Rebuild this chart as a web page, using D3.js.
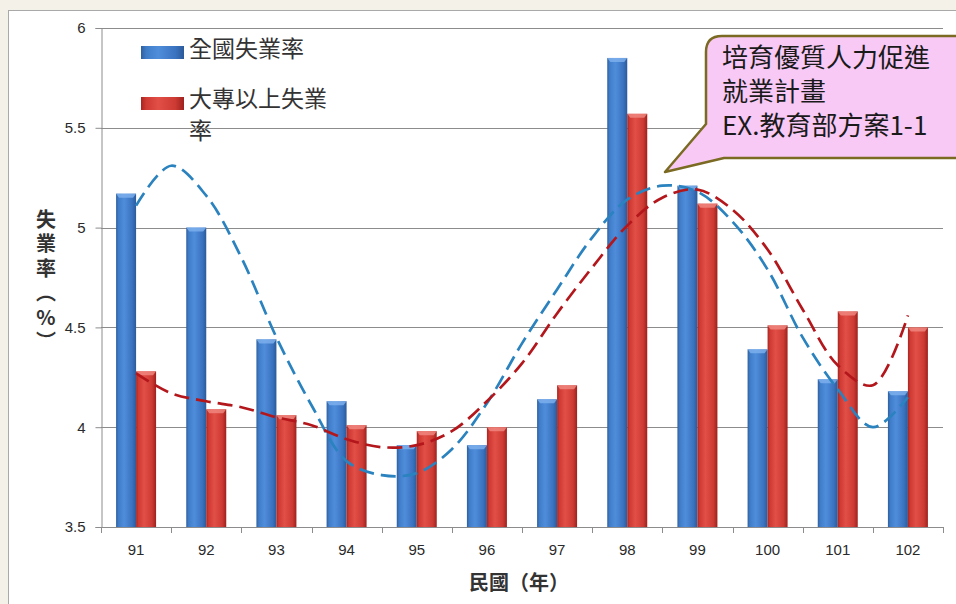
<!DOCTYPE html>
<html>
<head>
<meta charset="utf-8">
<script src="https://cdn.jsdelivr.net/npm/d3@7"></script>
<style>
  html, body { margin: 0; padding: 0; background: #f4f2e8; }
  svg { display: block; }
</style>
</head>
<body>
<svg id="canvas"></svg>
<script>
/* Data */
const years = ["91", "92", "93", "94", "95", "96", "97", "98", "99", "100", "101", "102"];
const national = [5.17, 5.00, 4.44, 4.13, 3.91, 3.91, 4.14, 5.85, 5.21, 4.39, 4.24, 4.18];
const college = [4.28, 4.09, 4.06, 4.01, 3.98, 4.00, 4.21, 5.57, 5.12, 4.51, 4.58, 4.50];
const seriesNames = ["全國失業率", "大專以上失業率"];
const yTicks = [3.5, 4, 4.5, 5, 5.5, 6];

/* Dashed trend curves, sampled every half year */
const trendYears = [91, 91.5, 92, 92.5, 93, 93.5, 94, 94.5, 95, 95.5, 96, 96.5,
                    97, 97.5, 98, 98.5, 99, 99.5, 100, 100.5, 101, 101.5, 102];
const trendNational = [5.11, 5.31, 5.16, 4.85, 4.45, 4.11, 3.83, 3.76, 3.77, 3.89, 4.12, 4.42,
                       4.69, 4.95, 5.14, 5.21, 5.18, 5.03, 4.79, 4.45, 4.19, 4.00, 4.15];
const trendCollege = [4.27, 4.17, 4.13, 4.10, 4.05, 4.01, 3.94, 3.90, 3.91, 3.98, 4.13, 4.32,
                      4.57, 4.80, 5.01, 5.15, 5.19, 5.09, 4.89, 4.59, 4.31, 4.21, 4.56];

const calloutLines = ["培育優質人力促進", "就業計畫", "EX.教育部方案1-1"];

const width = 956, height = 604;
const plot = { left: 101, right: 943, top: 28, bottom: 527 };

const svg = d3.select("#canvas")
    .attr("width", width)
    .attr("height", height);

/* Gradients for the bars */
const defs = svg.append("defs");
function barGradient(id, stops) {
    const g = defs.append("linearGradient").attr("id", id)
        .attr("x1", "0%").attr("x2", "100%").attr("y1", "0%").attr("y2", "0%");
    stops.forEach(s => g.append("stop").attr("offset", s[0]).attr("stop-color", s[1]));
}
barGradient("gBlue", [["0%", "#2f5f9e"], ["12%", "#3f7cc8"], ["40%", "#4f8ddb"], ["80%", "#3a73c0"], ["100%", "#2b5a99"]]);
barGradient("gRed", [["0%", "#a82521"], ["12%", "#cf3a33"], ["40%", "#e14f47"], ["80%", "#cc3a33"], ["100%", "#9e211d"]]);

/* Background + white chart panel */
svg.append("rect").attr("width", width).attr("height", height).attr("fill", "#f4f2e8");
svg.append("rect")
    .attr("x", 8.5).attr("y", 10.5)
    .attr("width", 970).attr("height", 620)
    .attr("fill", "#ffffff")
    .attr("stroke", "#a9a9a9");

/* Scales */
const x0 = d3.scaleBand()
    .domain(years)
    .range([plot.left, plot.right])
    .paddingInner(0.43)
    .paddingOuter(0.215);
const x1 = d3.scaleBand()
    .domain(seriesNames)
    .range([0, x0.bandwidth()]);
const y = d3.scaleLinear()
    .domain([3.5, 6])
    .range([plot.bottom, plot.top]);
const xTrend = d3.scaleLinear()
    .domain([91, 102])
    .range([x0("91") + x0.bandwidth() / 2, x0("102") + x0.bandwidth() / 2]);

/* Gridlines */
svg.append("g")
    .selectAll("line")
    .data(yTicks.filter(t => t > 3.5))
    .enter()
    .append("line")
    .attr("x1", plot.left).attr("x2", plot.right)
    .attr("y1", d => Math.round(y(d)) + 0.5).attr("y2", d => Math.round(y(d)) + 0.5)
    .attr("stroke", "#8c8c8c")
    .attr("stroke-width", 1);

/* Y axis */
const tickFont = "'Liberation Sans', Arial, sans-serif";
const yAxis = svg.append("g")
    .attr("transform", `translate(${plot.left + 0.5},0)`)
    .call(d3.axisLeft(y).tickValues(yTicks).tickSize(6).tickPadding(10).tickFormat(d3.format("")));
yAxis.select(".domain").attr("stroke", "#8c8c8c");
yAxis.selectAll(".tick line").attr("stroke", "#8c8c8c");
yAxis.selectAll(".tick text")
    .attr("fill", "#2a2a2a")
    .style("font-family", tickFont)
    .style("font-size", "15px");

/* X axis with ticks at category boundaries */
const boundaries = years.map(d => x0(d) - x0.step() * x0.paddingInner() / 2);
boundaries.push(plot.right);
const xg = svg.append("g");
xg.append("line")
    .attr("x1", plot.left).attr("x2", plot.right)
    .attr("y1", plot.bottom + 0.5).attr("y2", plot.bottom + 0.5)
    .attr("stroke", "#8c8c8c");
xg.selectAll("line.tick")
    .data(boundaries)
    .enter()
    .append("line")
    .classed("tick", true)
    .attr("x1", d => Math.round(d) + 0.5).attr("x2", d => Math.round(d) + 0.5)
    .attr("y1", plot.bottom).attr("y2", plot.bottom + 6)
    .attr("stroke", "#8c8c8c");
xg.selectAll("text")
    .data(years)
    .enter()
    .append("text")
    .attr("x", d => x0(d) + x0.bandwidth() / 2)
    .attr("y", 555)
    .attr("text-anchor", "middle")
    .attr("fill", "#2a2a2a")
    .style("font-family", tickFont)
    .style("font-size", "15px")
    .text(d => d);

/* Bars */
const rows = years.map((yr, i) => ({ year: yr, values: [national[i], college[i]] }));
const groups = svg.append("g")
    .selectAll("g")
    .data(rows)
    .enter()
    .append("g")
    .attr("transform", d => `translate(${x0(d.year)},0)`);
groups.selectAll("rect")
    .data(d => d.values.map((v, j) => ({ name: seriesNames[j], value: v, j: j })))
    .enter()
    .append("rect")
    .attr("x", d => x1(d.name))
    .attr("y", d => y(d.value))
    .attr("width", x1.bandwidth())
    .attr("height", d => y(3.5) - y(d.value))
    .attr("fill", d => d.j === 0 ? "url(#gBlue)" : "url(#gRed)");
/* small bevel on bar tops */
groups.selectAll("path.cap")
    .data(d => d.values.map((v, j) => ({ name: seriesNames[j], value: v, j: j })))
    .enter()
    .append("path")
    .classed("cap", true)
    .attr("d", d => {
        const bx = x1(d.name), by = y(d.value), bw = x1.bandwidth();
        return `M${bx},${by}L${bx + bw},${by}L${bx + bw - 3},${by + 4}L${bx + 3},${by + 4}Z`;
    })
    .attr("fill", d => d.j === 0 ? "#7fb2ee" : "#f08a82")
    .attr("opacity", 0.8);

/* Trend lines */
const trendLine = d3.line()
    .x((d, i) => xTrend(trendYears[i]))
    .y(d => y(d))
    .curve(d3.curveCatmullRom.alpha(0.5));
svg.append("path")
    .datum(trendNational)
    .attr("d", trendLine)
    .attr("fill", "none")
    .attr("stroke", "#2a82be")
    .attr("stroke-width", 2.7)
    .attr("stroke-dasharray", "15,7");
svg.append("path")
    .datum(trendCollege)
    .attr("d", trendLine)
    .attr("fill", "none")
    .attr("stroke", "#b3171c")
    .attr("stroke-width", 2.7)
    .attr("stroke-dasharray", "15,7");

/* Legend */
const legend = svg.append("g");
legend.append("rect").attr("x", 141).attr("y", 46).attr("width", 43).attr("height", 13).attr("fill", "url(#gBlue)");
legend.append("rect").attr("x", 141).attr("y", 97).attr("width", 43).attr("height", 13).attr("fill", "url(#gRed)");
const cjkFont = "'Noto Sans CJK TC', 'Noto Sans CJK SC', sans-serif";
legend.append("text").attr("x", 189).attr("y", 57)
    .style("font-family", cjkFont).style("font-size", "23px").attr("fill", "#333")
    .text(seriesNames[0]);
legend.append("text").attr("x", 189).attr("y", 107)
    .style("font-family", cjkFont).style("font-size", "23px").attr("fill", "#333")
    .text(seriesNames[1].slice(0, 6));
legend.append("text").attr("x", 189).attr("y", 139)
    .style("font-family", cjkFont).style("font-size", "23px").attr("fill", "#333")
    .text(seriesNames[1].slice(6));

/* Axis titles: vertical y title as one text */
svg.append("text")
    .attr("x", 46)
    .attr("y", 209)
    .style("writing-mode", "vertical-rl")
    .style("text-orientation", "upright")
    .style("letter-spacing", "4.5px")
    .style("font-family", cjkFont)
    .style("font-size", "20px")
    .style("font-weight", "bold")
    .attr("fill", "#333")
    .text("失業率︵%︶");
svg.append("text")
    .attr("x", 519).attr("y", 590)
    .attr("text-anchor", "middle")
    .style("font-family", cjkFont)
    .style("font-size", "20px")
    .style("font-weight", "bold")
    .attr("fill", "#333")
    .text("民國（年）");

/* Callout */
const callout = svg.append("g");
const bx = 706, by = 36, bw = 250, bh = 122, r = 16;
callout.append("path")
    .attr("d", `M${bx + r},${by} L${bx + bw + 20},${by} L${bx + bw + 20},${by + bh} L${bx + 18},${by + bh}
      L665,172 L${bx},${by + 88} L${bx},${by + r} Q${bx},${by} ${bx + r},${by} Z`)
    .attr("fill", "#f9c9f6")
    .attr("stroke", "#7a6a22")
    .attr("stroke-width", 2.5)
    .attr("stroke-linejoin", "round");
callout.append("g")
    .selectAll("text")
    .data(calloutLines)
    .enter()
    .append("text")
    .attr("x", 722)
    .attr("y", (d, i) => 67 + i * 34)
    .style("font-family", cjkFont)
    .style("font-size", "26px")
    .attr("fill", "#1a1a1a")
    .text(d => d);
</script>
</body>
</html>
